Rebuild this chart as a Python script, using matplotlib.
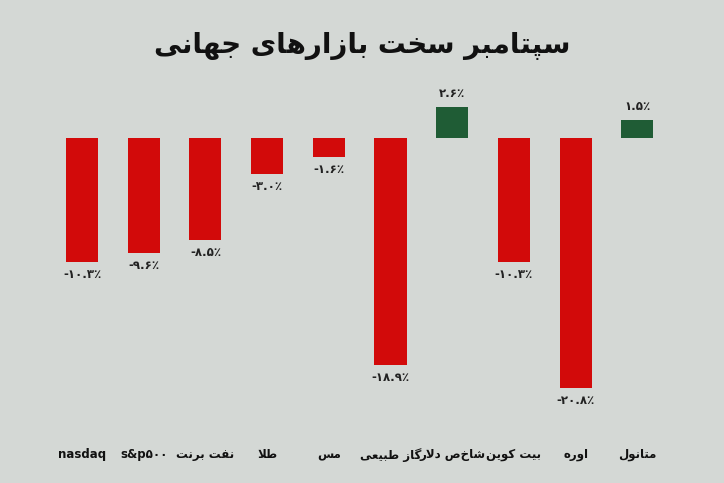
import matplotlib
matplotlib.use("Agg")
import matplotlib.pyplot as plt

# --- data ---------------------------------------------------------------
labels = ["nasdaq", "s&p۵۰۰", "نفت برنت", "طلا", "مس", "گاز طبیعی",
          "شاخص دلار", "بیت کوین", "اوره", "متانول"]
values = [-10.3, -9.6, -8.5, -3.0, -1.6, -18.9, 2.6, -10.3, -20.8, 1.5]
title = "سپتامبر سخت بازارهای جهانی"

# --- minimal Persian shaping (matplotlib has no bidi/shaping) ------------
FORMS = {
    "ا": (0xFE8D, 0xFE8E), "د": (0xFEA9, 0xFEAA), "ر": (0xFEAD, 0xFEAE),
    "ز": (0xFEAF, 0xFEB0), "و": (0xFEED, 0xFEEE),
    "ب": (0xFE8F, 0xFE90, 0xFE91, 0xFE92), "پ": (0xFB56, 0xFB57, 0xFB58, 0xFB59),
    "ت": (0xFE95, 0xFE96, 0xFE97, 0xFE98), "ج": (0xFE9D, 0xFE9E, 0xFE9F, 0xFEA0),
    "خ": (0xFEA5, 0xFEA6, 0xFEA7, 0xFEA8), "س": (0xFEB1, 0xFEB2, 0xFEB3, 0xFEB4),
    "ش": (0xFEB5, 0xFEB6, 0xFEB7, 0xFEB8), "ط": (0xFEC1, 0xFEC2, 0xFEC3, 0xFEC4),
    "ع": (0xFEC9, 0xFECA, 0xFECB, 0xFECC), "ف": (0xFED1, 0xFED2, 0xFED3, 0xFED4),
    "ک": (0xFB8E, 0xFB8F, 0xFB90, 0xFB91), "گ": (0xFB92, 0xFB93, 0xFB94, 0xFB95),
    "ل": (0xFEDD, 0xFEDE, 0xFEDF, 0xFEE0), "م": (0xFEE1, 0xFEE2, 0xFEE3, 0xFEE4),
    "ن": (0xFEE5, 0xFEE6, 0xFEE7, 0xFEE8), "ه": (0xFEE9, 0xFEEA, 0xFEEB, 0xFEEC),
    "ی": (0xFBFC, 0xFBFD, 0xFBFE, 0xFBFF),
}


def shape(text):
    text = text.replace("لا", "\uFEFB")  # lam-alef ligature (isolated)
    out = []
    for i, ch in enumerate(text):
        if ch == "\uFEFB":
            prev = text[i - 1] if i > 0 else ""
            joins = prev in FORMS and len(FORMS[prev]) == 4
            out.append("\uFEFC" if joins else ch)
            continue
        if ch not in FORMS:
            out.append(ch)
            continue
        prev = text[i - 1] if i > 0 else ""
        nxt = text[i + 1] if i + 1 < len(text) else ""
        f = FORMS[ch]
        from_prev = prev in FORMS and len(FORMS[prev]) == 4
        to_next = len(f) == 4 and (nxt in FORMS or nxt == "\uFEFB")
        if from_prev and to_next:
            out.append(chr(f[3]))
        elif from_prev:
            out.append(chr(f[1]))
        elif to_next:
            out.append(chr(f[2]))
        else:
            out.append(chr(f[0]))
    return "".join(out)[::-1]


def fa_num(v):
    s = "{:.1f}".format(abs(v))
    s = s.translate(str.maketrans("0123456789", "۰۱۲۳۴۵۶۷۸۹"))
    return ("-" if v < 0 else "") + s + "٪"


def is_persian(s):
    return any("\u0600" <= c <= "\u06FF" for c in s) and not any(c.isascii() and c.isalpha() for c in s)


# --- plot ---------------------------------------------------------------
bg = "#d4d8d5"
fig = plt.figure(figsize=(7.24, 4.83), dpi=100, facecolor=bg)
ax = fig.add_axes([0, 0, 1, 1])
ax.set_facecolor(bg)
ax.set_xlim(-1.33, 10.405)
ax.set_ylim(-28.75, 11.5)
ax.axis("off")

x = list(range(len(values)))
colors = ["#1f5c35" if v > 0 else "#d20a0a" for v in values]
ax.bar(x, values, width=0.52, color=colors)

for xi, v in zip(x, values):
    if v < 0:
        ax.text(xi, v - 0.5, fa_num(v), ha="center", va="top", fontsize=8.5,
                fontweight="bold", color="#222222")
    else:
        ax.text(xi, v + 0.6, fa_num(v), ha="center", va="bottom", fontsize=8.5,
                fontweight="bold", color="#222222")

for xi, lab in zip(x, labels):
    txt = shape(lab) if is_persian(lab) else lab
    ax.text(xi, -26.4, txt, ha="center", va="center", fontsize=8.5,
            fontweight="bold", color="#111111")

ax.text(4.54, 7.7, shape(title), ha="center", va="center", fontsize=20,
        fontweight="bold", color="#111111")

fig.savefig("out.png", dpi=100, facecolor=bg)
